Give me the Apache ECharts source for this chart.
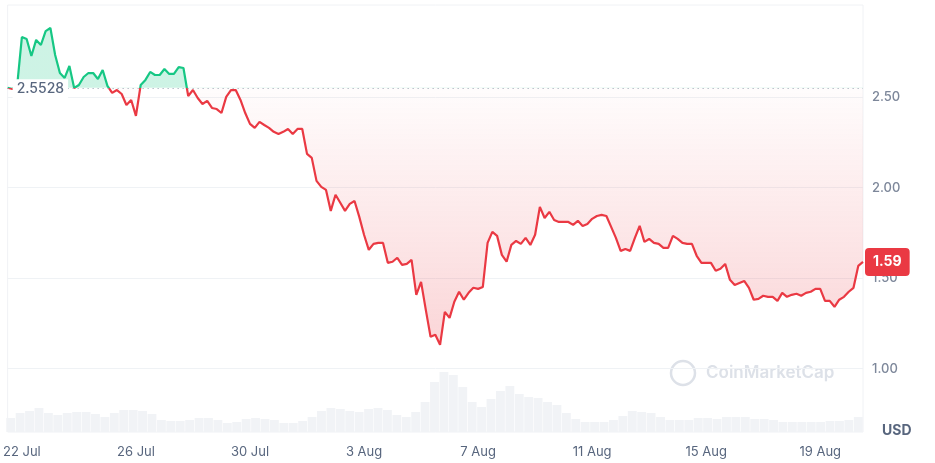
<!DOCTYPE html>
<html>
<head>
<meta charset="utf-8">
<script src="https://cdn.jsdelivr.net/npm/echarts@6/dist/echarts.min.js"></script>
<style>
  html, body { margin: 0; padding: 0; background: #fff; }
  #chart { width: 935px; height: 463px; }
</style>
</head>
<body>
<div id="chart"></div>
<script>
// price every 4 hours from 21 Jul 12:00 (USD)
const priceValues = [
  2.5528, 2.546, 2.563, 2.833, 2.822, 2.728, 2.817, 2.789, 2.866, 2.883,
  2.734, 2.634, 2.607, 2.673, 2.551, 2.568, 2.612, 2.634, 2.634, 2.601,
  2.651, 2.563, 2.524, 2.540, 2.518, 2.457, 2.485, 2.397, 2.568, 2.596,
  2.640, 2.623, 2.623, 2.656, 2.629, 2.629, 2.667, 2.662, 2.507, 2.540,
  2.496, 2.463, 2.480, 2.441, 2.435, 2.413, 2.502, 2.540, 2.540, 2.485,
  2.413, 2.353, 2.331, 2.364, 2.347, 2.331, 2.309, 2.297, 2.309, 2.325,
  2.297, 2.325, 2.325, 2.187, 2.165, 2.038, 2.005, 1.988, 1.872, 1.961,
  1.917, 1.872, 1.911, 1.927, 1.839, 1.740, 1.657, 1.690, 1.695, 1.695,
  1.585, 1.591, 1.613, 1.574, 1.579, 1.601, 1.408, 1.480, 1.325, 1.176,
  1.187, 1.132, 1.314, 1.281, 1.370, 1.425, 1.381, 1.419, 1.447, 1.441,
  1.452, 1.695, 1.756, 1.734, 1.629, 1.591, 1.684, 1.706, 1.690, 1.723,
  1.684, 1.740, 1.894, 1.833, 1.867, 1.822, 1.811, 1.811, 1.811, 1.795,
  1.817, 1.789, 1.800, 1.828, 1.844, 1.850, 1.844, 1.784, 1.723, 1.651,
  1.662, 1.651, 1.723, 1.789, 1.701, 1.717, 1.695, 1.690, 1.668, 1.668,
  1.734, 1.717, 1.695, 1.690, 1.690, 1.624, 1.585, 1.585, 1.585, 1.541,
  1.552, 1.579, 1.491, 1.463, 1.474, 1.485, 1.447, 1.381, 1.386, 1.403,
  1.397, 1.397, 1.375, 1.419, 1.397, 1.408, 1.414, 1.403, 1.419, 1.425,
  1.441, 1.441, 1.375, 1.375, 1.342, 1.381, 1.397, 1.425, 1.447, 1.568,
  1.59
]

// volume every 8 hours, relative units
const volumeValues = [
  14, 19, 21, 24, 19, 17, 19, 20, 20, 18,
  15, 19, 22, 22, 21, 18, 12, 11, 11, 12,
  14, 14, 12, 9, 10, 13, 14, 13, 12, 9,
  9, 11, 15, 21, 24, 23, 21, 20, 23, 24,
  22, 17, 15, 20, 30, 50, 60, 57, 45, 30,
  25, 33, 41, 46, 38, 35, 34, 30, 27, 19,
  13, 10, 10, 10, 12, 16, 21, 20, 19, 15,
  12, 12, 12, 14, 14, 13, 15, 15, 15, 13,
  13, 12, 10, 10, 10, 10, 10, 11, 11, 12,
  15
]

const baseline = 2.5528
const yTicks = [1, 1.5, 2, 2.5]
const months = ['Jan', 'Feb', 'Mar', 'Apr', 'May', 'Jun', 'Jul', 'Aug', 'Sep', 'Oct', 'Nov', 'Dec']
const startTime = Date.UTC(2024, 6, 21, 12)

function stamp(t) {
  const d = new Date(t)
  return d.getUTCDate() + ' ' + months[d.getUTCMonth()] + ' ' + String(d.getUTCHours()).padStart(2, '0') + ':00'
}
const priceCats = priceValues.map((v, i) => stamp(startTime + i * 4 * 3600 * 1000))
const volumeCats = volumeValues.map((v, i) => stamp(startTime + i * 8 * 3600 * 1000))

const H = 463
const cut = 87.7 / H
const lineColor = new echarts.graphic.LinearGradient(0, 0, 0, H, [
  { offset: 0, color: '#16c784' },
  { offset: cut, color: '#16c784' },
  { offset: cut, color: '#ea3943' },
  { offset: 1, color: '#ea3943' }
], true)
const areaColor = new echarts.graphic.LinearGradient(0, 0, 0, H, [
  { offset: 0, color: 'rgba(22,199,132,0.3)' },
  { offset: cut, color: 'rgba(22,199,132,0.3)' },
  { offset: cut, color: 'rgba(234,57,67,0.02)' },
  { offset: 347 / H, color: 'rgba(234,57,67,0.3)' },
  { offset: 1, color: 'rgba(234,57,67,0.3)' }
], true)

const myChart = echarts.init(document.getElementById('chart'))
const option = {
  animation: false,
  textStyle: { fontFamily: 'Inter' },
  title: {
    text: 'USD',
    left: 877,
    top: 419,
    textStyle: { fontSize: 14, fontWeight: 700, color: '#58667e', fontFamily: 'Inter' }
  },
  graphic: [
    {
      type: 'circle',
      shape: { cx: 683, cy: 373, r: 12 },
      style: { fill: 'none', stroke: '#dde1e8', lineWidth: 2.5 },
      silent: true
    },
    {
      type: 'text',
      x: 706,
      y: 364,
      style: { text: 'CoinMarketCap', fill: '#dde1e8', font: '600 17px Inter' },
      silent: true
    }
  ],
  grid: [
    { left: 6, right: 72, top: 5, bottom: 31, show: true, borderColor: '#f0f2f5', borderWidth: 1 },
    { left: 6, right: 72, top: 370, bottom: 31 }
  ],
  xAxis: [
    {
      type: 'category',
      gridIndex: 0,
      data: priceCats,
      boundaryGap: false,
      axisLine: { show: false },
      axisTick: { show: false },
      axisLabel: {
        interval: (i) => i % 24 === 3,
        formatter: (v) => v.split(' ').slice(0, 2).join(' '),
        color: '#58667e',
        fontSize: 13,
        margin: 14
      }
    },
    {
      type: 'category',
      gridIndex: 1,
      data: volumeCats,
      show: false
    }
  ],
  yAxis: [
    {
      type: 'value',
      gridIndex: 0,
      position: 'right',
      min: 0.65,
      max: 3.01,
      axisLine: { show: false },
      axisTick: { show: false, customValues: yTicks },
      axisLabel: {
        customValues: yTicks,
        formatter: (v) => v.toFixed(2),
        color: '#7d879a',
        fontSize: 13,
        fontWeight: 500,
        margin: 9
      },
      splitLine: { show: true, lineStyle: { color: '#eff2f5' } }
    },
    {
      type: 'value',
      gridIndex: 1,
      min: 0,
      max: 62,
      show: false
    }
  ],
  series: [
    {
      name: 'Volume',
      type: 'bar',
      xAxisIndex: 1,
      yAxisIndex: 1,
      data: volumeValues,
      barCategoryGap: '6%',
      itemStyle: { color: '#f1f3f6' },
      silent: true,
      z: 1
    },
    {
      name: 'Price',
      type: 'line',
      xAxisIndex: 0,
      yAxisIndex: 0,
      data: priceValues,
      showSymbol: false,
      symbol: 'none',
      lineStyle: { color: lineColor, width: 2.2 },
      itemStyle: { color: '#ea3943' },
      areaStyle: { origin: baseline, color: areaColor },
      endLabel: {
        show: true,
        formatter: (p) => p.value.toFixed(2),
        backgroundColor: '#ea3943',
        color: '#fff',
        fontSize: 14,
        fontWeight: 700,
        padding: [7, 8],
        borderRadius: 4,
        distance: 2
      },
      markLine: {
        silent: true,
        symbol: ['none', 'none'],
        lineStyle: { type: [1, 4], color: '#97a3b2', width: 1 },
        label: {
          show: true,
          position: 'insideStartTop',
          formatter: baseline.toFixed(4),
          color: '#58667e',
          fontSize: 14,
          fontWeight: 500,
          backgroundColor: '#fff',
          padding: [3, 4],
          distance: 0,
          offset: [5, 11]
        },
        data: [{ yAxis: baseline }]
      },
      z: 3
    }
  ]
}
myChart.setOption(option)
window.onresize = myChart.resize
</script>
</body>
</html>
